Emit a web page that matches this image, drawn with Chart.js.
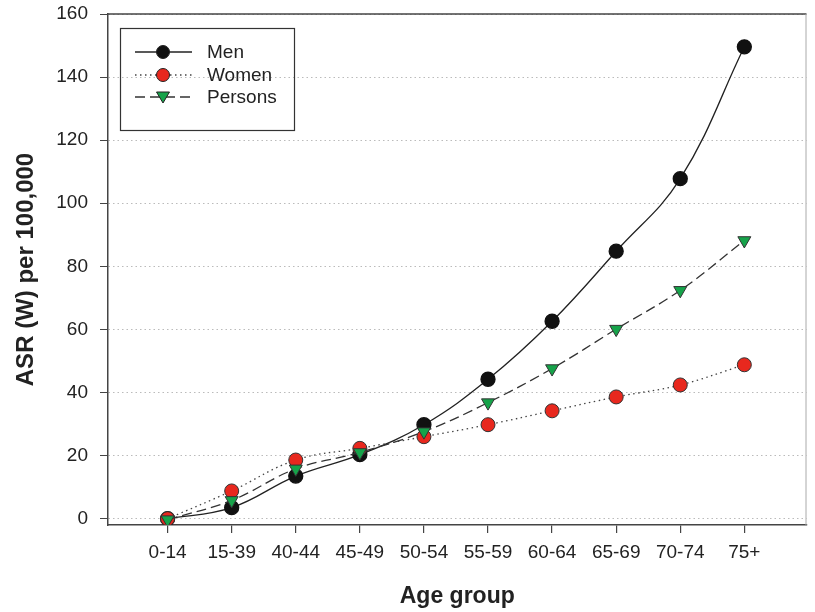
<!DOCTYPE html>
<html>
<head>
<meta charset="utf-8">
<script src="https://cdn.jsdelivr.net/npm/chart.js@4"></script>
<style>
  html, body { margin: 0; padding: 0; background: #fff; overflow: hidden; }
  canvas { display: block; }
</style>
</head>
<body>
<canvas id="grafico" width="815" height="612"></canvas>
<script>
// dados
const ageGroups = ['0-14', '15-39', '40-44', '45-49', '50-54', '55-59', '60-64', '65-69', '70-74', '75+'];
const men = [0, 3.5, 13.5, 20.3, 29.8, 44.2, 62.6, 84.8, 107.8, 149.6];
const women = [0, 8.8, 18.6, 22.3, 26, 29.8, 34.2, 38.6, 42.4, 48.8];
const persons = [-0.3, 5.8, 15.8, 21, 27.6, 36.8, 47.6, 60.1, 72.4, 88.2];
const yTicks = [0, 20, 40, 60, 80, 100, 120, 140, 160];

const toPoints = arr => arr.map((v, i) => ({ x: i, y: v }));
const fonte = '"Liberation Sans", Arial, sans-serif';

// legenda desenhada dentro da área do gráfico
const legendaBox = {
    id: 'legendaBox',
    afterDraw(chart) {
        const ctx = chart.ctx;
        ctx.save();
        ctx.strokeStyle = '#333';
        ctx.lineWidth = 1.2;
        ctx.strokeRect(120.5, 28.5, 174, 102);
        const rows = [52, 75, 97];
        chart.data.datasets.forEach((ds, i) => {
            const y = rows[i];
            ctx.strokeStyle = ds.borderColor;
            ctx.lineWidth = 1.3;
            ctx.setLineDash(ds.borderDash || []);
            ctx.beginPath();
            ctx.moveTo(135, y);
            ctx.lineTo(192, y);
            ctx.stroke();
            ctx.setLineDash([]);
            ctx.fillStyle = ds.pointBackgroundColor;
            ctx.strokeStyle = '#222';
            ctx.lineWidth = 1;
            ctx.beginPath();
            if (ds.pointStyle === 'triangle') {
                ctx.moveTo(156.5, y - 5);
                ctx.lineTo(169.5, y - 5);
                ctx.lineTo(163, y + 6);
                ctx.closePath();
            } else {
                ctx.arc(163, y, 6.5, 0, Math.PI * 2);
            }
            ctx.fill();
            ctx.stroke();
            ctx.fillStyle = '#222';
            ctx.font = '19px ' + fonte;
            ctx.textBaseline = 'middle';
            ctx.textAlign = 'left';
            ctx.fillText(ds.label, 207, y + 1);
        });
        ctx.restore();
    }
};

// moldura de cima e da direita
const moldura = {
    id: 'moldura',
    beforeDatasetsDraw(chart) {
        const a = chart.chartArea;
        const ctx = chart.ctx;
        ctx.save();
        ctx.strokeStyle = '#444';
        ctx.lineWidth = 1.5;
        ctx.beginPath();
        ctx.moveTo(a.left, a.top);
        ctx.lineTo(a.right, a.top);
        ctx.stroke();
        ctx.strokeStyle = '#aaa';
        ctx.lineWidth = 1;
        ctx.beginPath();
        ctx.moveTo(a.right - 0.5, a.top);
        ctx.lineTo(a.right - 0.5, a.bottom);
        ctx.stroke();
        ctx.restore();
    }
};

const grafico = document.querySelector('#grafico');
new Chart(grafico, {
    type: 'line',
    data: {
        datasets: [{
            label: 'Men',
            data: toPoints(men),
            borderColor: '#222',
            borderWidth: 1.3,
            pointBackgroundColor: '#111',
            pointBorderColor: '#111',
            pointRadius: 7,
            pointStyle: 'circle',
            tension: 0.4,
            order: 3
        }, {
            label: 'Women',
            data: toPoints(women),
            borderColor: '#444',
            borderWidth: 1.3,
            borderDash: [1.5, 3.5],
            pointBackgroundColor: '#e8281e',
            pointBorderColor: '#333',
            pointBorderWidth: 1,
            pointRadius: 7,
            pointStyle: 'circle',
            tension: 0.4,
            order: 2
        }, {
            label: 'Persons',
            data: toPoints(persons),
            borderColor: '#333',
            borderWidth: 1.3,
            borderDash: [10, 5],
            pointBackgroundColor: '#16a34a',
            pointBorderColor: '#333',
            pointBorderWidth: 1,
            pointRadius: 7.5,
            pointStyle: 'triangle',
            pointRotation: 180,
            tension: 0.4,
            order: 1
        }]
    },
    options: {
        responsive: false,
        animation: false,
        layout: { padding: { top: 14, right: 0, left: 0, bottom: 0 } },
        plugins: {
            legend: { display: false },
            tooltip: { enabled: false }
        },
        scales: {
            x: {
                type: 'linear',
                min: -0.93,
                max: 9.97,
                afterFit: s => { s.height = 87; s.paddingRight = 0; s.paddingLeft = 0; },
                afterBuildTicks: s => { s.ticks = ageGroups.map((g, i) => ({ value: i })); },
                grid: { drawOnChartArea: false, drawTicks: true, tickLength: 8, color: '#444', lineWidth: 1.2 },
                border: { color: '#444', width: 1.5 },
                ticks: {
                    color: '#222',
                    padding: 8,
                    maxRotation: 0,
                    font: { size: 19, family: fonte },
                    callback: v => ageGroups[v]
                },
                title: {
                    display: true,
                    text: 'Age group',
                    color: '#222',
                    padding: { top: 10, bottom: 2 },
                    font: { size: 23, weight: 'bold', family: fonte }
                }
            },
            y: {
                min: -2,
                max: 160,
                afterFit: s => {
                    s.width = 108;
                    s.paddingTop = 0; s.paddingBottom = 0;
                    s.paddingLeft = 0; s.paddingRight = 0;
                },
                afterBuildTicks: s => { s.ticks = yTicks.map(v => ({ value: v })); },
                grid: {
                    color: '#bbb',
                    lineWidth: 1,
                    drawTicks: true,
                    tickLength: 8,
                    tickColor: '#444'
                },
                border: { color: '#444', width: 1.5, dash: [1.5, 3] },
                ticks: {
                    color: '#222',
                    padding: 12,
                    font: { size: 19, family: fonte }
                },
                title: {
                    display: true,
                    text: 'ASR (W) per 100,000',
                    color: '#222',
                    padding: { top: 12, bottom: 10 },
                    font: { size: 24, weight: 'bold', family: fonte }
                }
            }
        }
    },
    plugins: [moldura, legendaBox]
});
</script>
</body>
</html>
